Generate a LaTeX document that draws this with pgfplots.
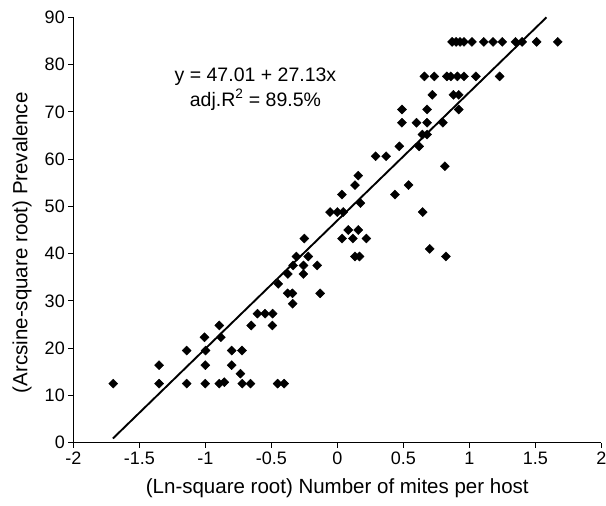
\documentclass[border=0pt]{standalone}
\usepackage{fontspec}
\setmainfont{Liberation Sans}
\usepackage{pgfplots}
\pgfplotsset{compat=1.18}
\begin{document}
\begin{tikzpicture}
\begin{axis}[
  scale only axis, width=528pt, height=425.4pt,
  xmin=-2, xmax=2, ymin=0, ymax=90,
  axis x line*=bottom, axis y line*=left,
  axis line style={line width=1.1pt},
  xtick={-2,-1.5,-1,-0.5,0,0.5,1,1.5,2},
  xticklabels={-2,-1.5,-1,-0.5,0,0.5,1,1.5,2},
  ytick={0,10,20,30,40,50,60,70,80,90},
  yticklabels={0,10,20,30,40,50,60,70,80,90},
  tick align=outside, major tick length=5pt,
  tick style={line width=1.1pt, black},
  ticklabel style={font=\fontsize{18}{20}\selectfont},
  xticklabel style={yshift=-1pt},
  xlabel={(Ln-square root) Number of mites per host},
  ylabel={(Arcsine-square root) Prevalence},
  label style={font=\fontsize{20.5}{22}\selectfont},
  xlabel style={at={(axis description cs:0.5,-0.106)}, anchor=center},
  ylabel style={at={(axis description cs:-0.097,0.47)}, anchor=center},
  clip=false,
]
\addplot[only marks, mark=square*, mark size=3.2pt, mark options={rotate=45, black}, black] coordinates {
(0.87,84.8) (0.90,84.8) (0.93,84.8) (0.96,84.8) (1.02,84.8) (1.11,84.8) (1.18,84.8) (1.25,84.8) (1.35,84.8) (1.40,84.8) (1.51,84.8) (1.67,84.8)
(0.66,77.5) (0.735,77.5) (0.83,77.5) (0.86,77.5) (0.91,77.5) (0.96,77.5) (1.05,77.5) (1.23,77.5)
(0.72,73.6) (0.88,73.6) (0.92,73.6)
(0.49,70.5) (0.68,70.5) (0.92,70.5)
(0.49,67.7) (0.60,67.7) (0.68,67.7) (0.80,67.7)
(0.645,65.2) (0.68,65.2)
(0.47,62.7) (0.62,62.7)
(0.29,60.6) (0.37,60.6)
(0.815,58.5)
(0.159,56.5)
(0.134,54.5) (0.54,54.5)
(0.035,52.5) (0.437,52.5)
(0.175,50.7)
(-0.055,48.8) (0.0,48.8) (0.045,48.8) (0.647,48.8)
(0.083,45.0) (0.159,45.0)
(-0.25,43.2) (0.036,43.2) (0.118,43.2) (0.22,43.2)
(0.70,41.0)
(-0.31,39.4) (-0.22,39.4) (0.134,39.4) (0.168,39.4) (0.823,39.4)
(-0.335,37.5) (-0.256,37.5) (-0.152,37.5)
(-0.375,35.7) (-0.257,35.7)
(-0.447,33.6)
(-0.376,31.6) (-0.34,31.6) (-0.13,31.6)
(-0.338,29.4)
(-0.605,27.3) (-0.547,27.3) (-0.49,27.3)
(-0.894,24.8) (-0.652,24.8) (-0.492,24.8)
(-1.006,22.3) (-0.882,22.3)
(-1.141,19.5) (-0.998,19.5) (-0.80,19.5) (-0.722,19.5)
(-1.35,16.4) (-1.0,16.4) (-0.80,16.4)
(-0.734,14.6)
(-1.697,12.5) (-1.35,12.5) (-1.141,12.5) (-1.0,12.5) (-0.894,12.5) (-0.856,12.8) (-0.72,12.5) (-0.658,12.5) (-0.452,12.5) (-0.403,12.5)
};
\addplot[black, line width=1.9pt, no marks] coordinates {(-1.7,0.89) (1.585,90.0)};
\node[font=\fontsize{19.5}{22}\selectfont, anchor=center] at (axis cs:-0.62,77.5) {y = 47.01 + 27.13x};
\node[font=\fontsize{19.5}{22}\selectfont, anchor=center] at (axis cs:-0.62,72.6) {adj.R\textsuperscript{2} = 89.5\%};
\end{axis}
\pgfresetboundingbox
\path[use as bounding box] (-73.3pt,-63.3pt) rectangle (532.7pt,442.7pt);
\end{tikzpicture}
\end{document}
